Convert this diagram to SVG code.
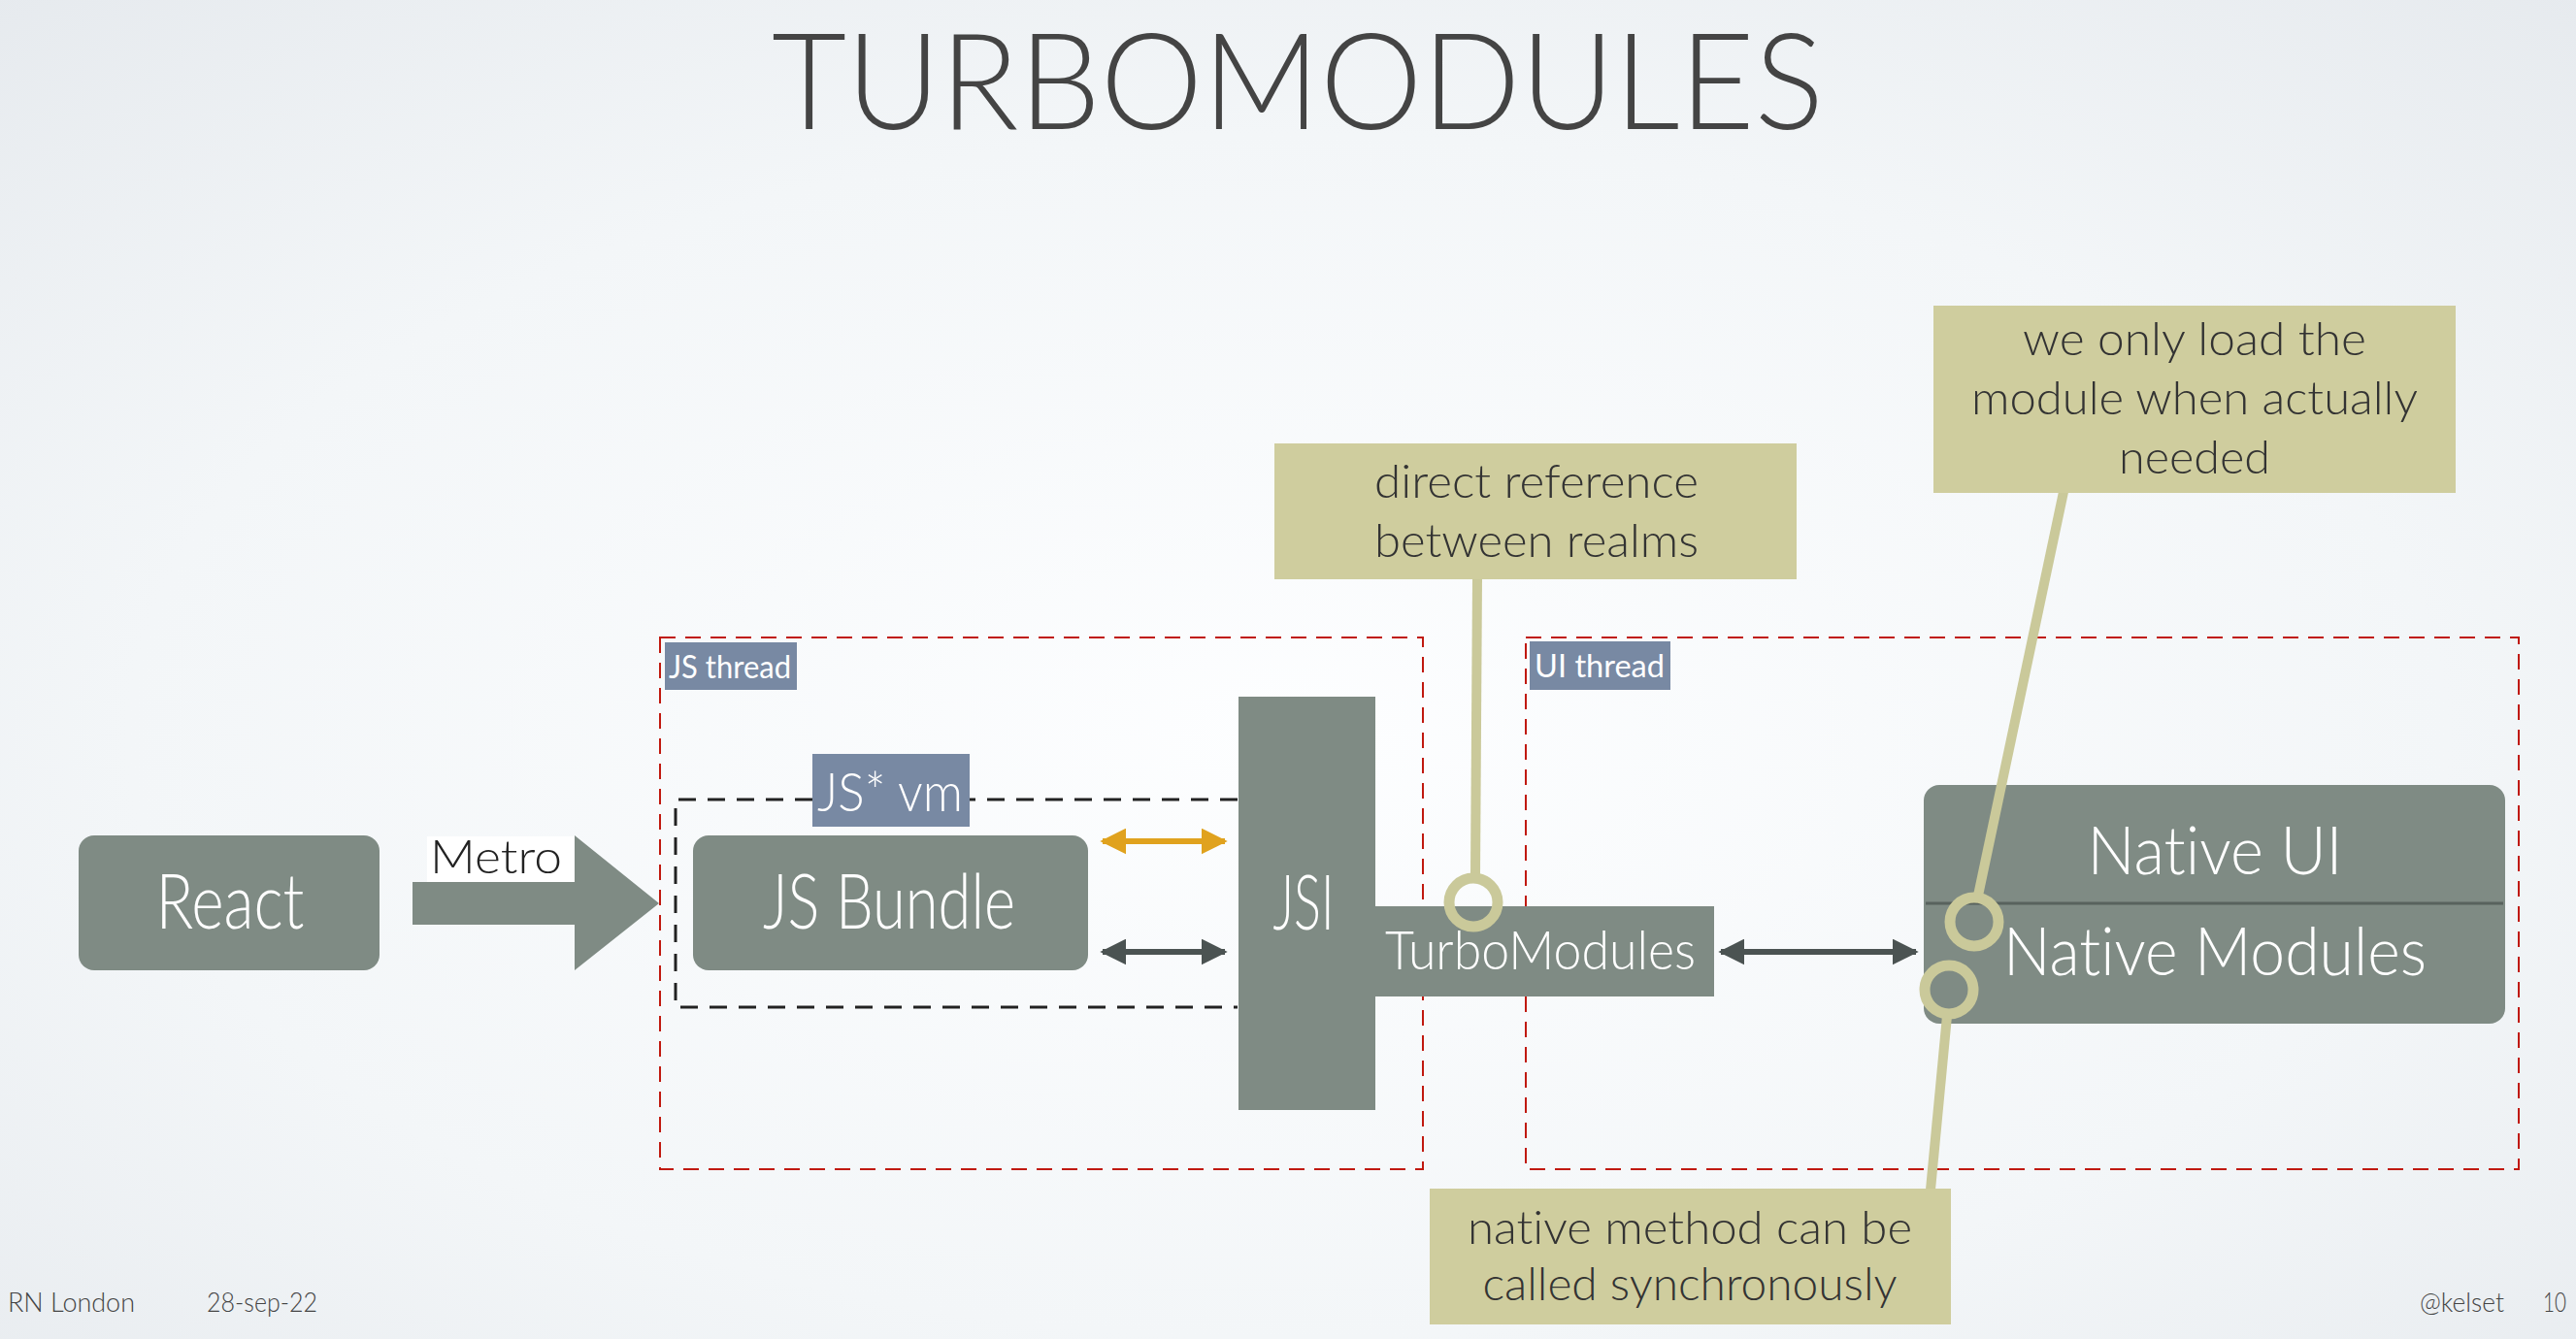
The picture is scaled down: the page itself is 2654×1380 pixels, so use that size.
<svg xmlns="http://www.w3.org/2000/svg" width="2654" height="1380" viewBox="0 0 2654 1380">
<defs>
<radialGradient id="bg" cx="0.5" cy="0.55" r="0.75">
<stop offset="0" stop-color="#fdfeff"/>
<stop offset="0.6" stop-color="#f3f6f8"/>
<stop offset="1" stop-color="#e6eaee"/>
</radialGradient>
<marker id="hd" viewBox="0 0 10 10" refX="9" refY="5" markerWidth="4.5" markerHeight="4.5" orient="auto-start-reverse" markerUnits="strokeWidth"><path d="M0,0 L10,5 L0,10 z" fill="#4b5352"/></marker>
<marker id="ho" viewBox="0 0 10 10" refX="9" refY="5" markerWidth="4.5" markerHeight="4.5" orient="auto-start-reverse" markerUnits="strokeWidth"><path d="M0,0 L10,5 L0,10 z" fill="#e0a21e"/></marker>
</defs>
<style>
text{font-variant-ligatures:none;font-feature-settings:"liga" 0,"clig" 0}
.box{fill:#7f8b84}
.wt{fill:#ffffff;font-family:Lato,"Open Sans",sans-serif;font-weight:300}
.dk{fill:#333;font-family:Lato,"Open Sans",sans-serif;font-weight:300}
.call{fill:#cfcd9e}
.tag{fill:#7889a3}
.red{fill:none;stroke:#c0190f;stroke-width:2;stroke-dasharray:16 10}
.blk{fill:none;stroke:#222;stroke-width:3;stroke-dasharray:18 12}
.lead{fill:none;stroke:#cac99a;stroke-width:10}
.ring{fill:none;stroke:#cac99a;stroke-width:11}
.foot{fill:#444;font-family:Lato,"Open Sans",sans-serif;font-weight:300;font-size:27px}
</style>
<rect x="0" y="0" width="2654" height="1380" fill="url(#bg)"/>
<text x="1337" y="133" text-anchor="middle" font-family="Lato,'Open Sans',sans-serif" font-weight="300" font-size="138" fill="#444" textLength="1084" lengthAdjust="spacingAndGlyphs">TURBOMODULES</text>

<g id="js-thread">
<rect class="red" x="680" y="657" width="786" height="548"/>
<rect class="tag" x="685" y="662" width="136" height="49"/>
<text class="wt" x="689" y="699" font-size="33" textLength="126" lengthAdjust="spacingAndGlyphs" style="font-weight:400">JS thread</text>
</g>
<g id="ui-thread">
<rect class="red" x="1572" y="657" width="1023" height="548"/>
<rect class="tag" x="1576" y="661" width="145" height="50"/>
<text class="wt" x="1581" y="698" font-size="33" textLength="134" lengthAdjust="spacingAndGlyphs" style="font-weight:400">UI thread</text>
</g>
<g id="js-vm">
<path class="blk" d="M1275,824 L998,824 M837,824 L696,824 L696,1038 L1275,1038"/>
<rect class="tag" x="837" y="777" width="162" height="75"/>
<text class="wt" x="842" y="836" font-size="56" textLength="150" lengthAdjust="spacingAndGlyphs">JS* vm</text>
</g>

<g id="react">
<rect class="box" x="81" y="861" width="310" height="139" rx="16"/>
<text class="wt" x="237" y="957" font-size="78" text-anchor="middle" textLength="153" lengthAdjust="spacingAndGlyphs">React</text>
</g>
<g id="metro">
<rect x="440" y="862" width="152" height="47" fill="#ffffff"/>
<text x="443" y="900" font-family="Lato,'Open Sans',sans-serif" font-weight="300" font-size="48" fill="#222" textLength="136" lengthAdjust="spacingAndGlyphs">Metro</text>
</g>
<g id="js-bundle">
<rect class="box" x="714" y="861" width="407" height="139" rx="16"/>
<text class="wt" x="916" y="957" font-size="78" text-anchor="middle" textLength="260" lengthAdjust="spacingAndGlyphs">JS Bundle</text>
</g>
<g id="jsi">
<path class="box" d="M1276,718 L1417,718 L1417,934 L1766,934 L1766,1027 L1417,1027 L1417,1144 L1276,1144 z"/>
<text class="wt" x="1343" y="958" font-size="78" text-anchor="middle" textLength="63" lengthAdjust="spacingAndGlyphs">JSI</text>
<text class="wt" x="1587" y="999" font-size="56" text-anchor="middle" textLength="320" lengthAdjust="spacingAndGlyphs">TurboModules</text>
</g>
<g id="native">
<rect class="box" x="1982" y="809" width="599" height="246" rx="16"/>
<line x1="1984" y1="931" x2="2579" y2="931" stroke="#58625d" stroke-width="3"/>
<text class="wt" x="2282" y="901" font-size="68" text-anchor="middle" textLength="263" lengthAdjust="spacingAndGlyphs">Native UI</text>
<text class="wt" x="2282" y="1005" font-size="68" text-anchor="middle" textLength="436" lengthAdjust="spacingAndGlyphs">Native Modules</text>
</g>

<g id="connectors">
<path class="box" d="M425,909 L592,909 L592,861 L679,931 L592,1000 L592,953 L425,953 z"/>
<line x1="1136" y1="867" x2="1262" y2="867" stroke="#e0a21e" stroke-width="6" marker-start="url(#ho)" marker-end="url(#ho)"/>
<line x1="1136" y1="981" x2="1262" y2="981" stroke="#4b5352" stroke-width="6" marker-start="url(#hd)" marker-end="url(#hd)"/>
<line x1="1773" y1="981" x2="1974" y2="981" stroke="#4b5352" stroke-width="6" marker-start="url(#hd)" marker-end="url(#hd)"/>
<line class="lead" x1="1522" y1="596" x2="1520" y2="902"/>
<circle class="ring" cx="1518" cy="930" r="25"/>
<line class="lead" x1="2126" y1="507" x2="2038" y2="923"/>
<circle class="ring" cx="2034" cy="950" r="25"/>
<line class="lead" x1="2006" y1="1047" x2="1989" y2="1226"/>
<circle class="ring" cx="2008" cy="1020" r="25"/>
</g>

<g id="callout-direct">
<rect class="call" x="1313" y="457" width="538" height="140"/>
<text class="dk" x="1583" y="513" font-size="48" text-anchor="middle" textLength="334" lengthAdjust="spacingAndGlyphs">direct reference</text>
<text class="dk" x="1583" y="574" font-size="48" text-anchor="middle" textLength="334" lengthAdjust="spacingAndGlyphs">between realms</text>
</g>
<g id="callout-load">
<rect class="call" x="1992" y="315" width="538" height="193"/>
<text class="dk" x="2261" y="366" font-size="48" text-anchor="middle" textLength="354" lengthAdjust="spacingAndGlyphs">we only load the</text>
<text class="dk" x="2261" y="427" font-size="48" text-anchor="middle" textLength="460" lengthAdjust="spacingAndGlyphs">module when actually</text>
<text class="dk" x="2261" y="488" font-size="48" text-anchor="middle" textLength="156" lengthAdjust="spacingAndGlyphs">needed</text>
</g>
<g id="callout-sync">
<rect class="call" x="1473" y="1225" width="537" height="140"/>
<text class="dk" x="1741" y="1282" font-size="48" text-anchor="middle" textLength="458" lengthAdjust="spacingAndGlyphs">native method can be</text>
<text class="dk" x="1741" y="1340" font-size="48" text-anchor="middle" textLength="427" lengthAdjust="spacingAndGlyphs">called synchronously</text>
</g>

<text class="foot" x="8" y="1352" textLength="131" lengthAdjust="spacingAndGlyphs">RN London</text>
<text class="foot" x="213" y="1352" textLength="114" lengthAdjust="spacingAndGlyphs">28-sep-22</text>
<text class="foot" x="2493" y="1352" textLength="87" lengthAdjust="spacingAndGlyphs">@kelset</text>
<text class="foot" x="2620" y="1352" textLength="24" lengthAdjust="spacingAndGlyphs">10</text>
</svg>
